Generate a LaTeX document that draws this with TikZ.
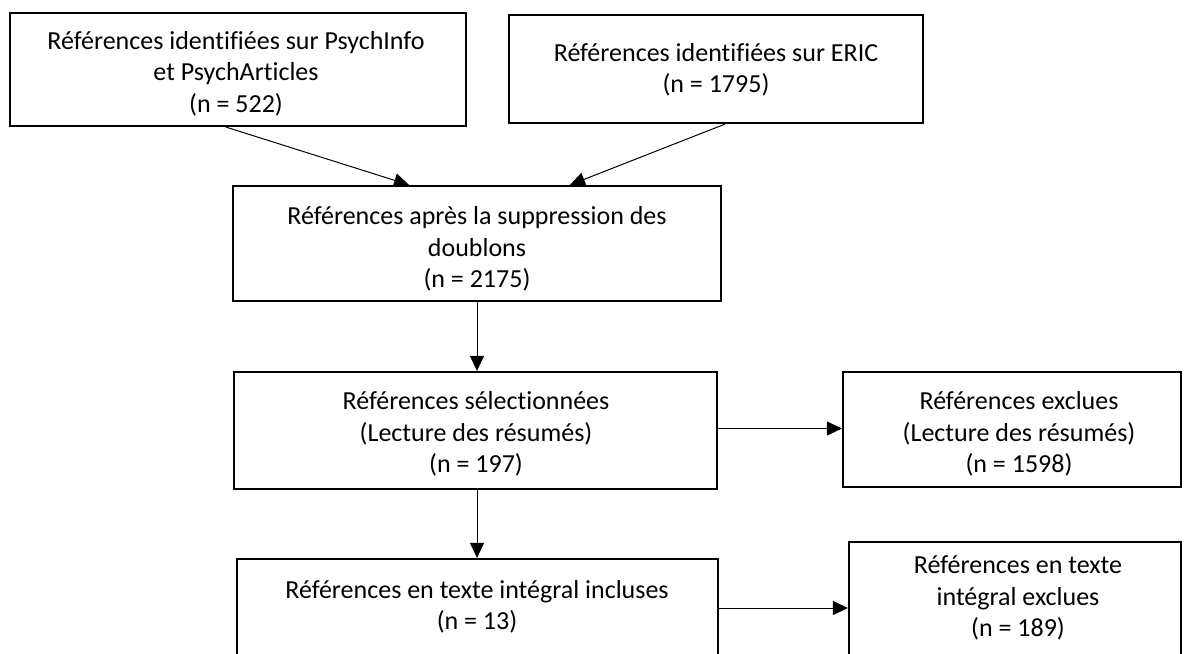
\documentclass[tikz,border=0pt]{standalone}
\usepackage{fontspec}
\setmainfont{Carlito}[Ligatures=NoCommon]
\usetikzlibrary{arrows.meta,positioning}

\tikzset{
  refbox/.style={draw, line width=2.2pt, rectangle, inner sep=0pt},
  reftext/.style={align=center, inner sep=0pt, font=\fontsize{26pt}{31.5pt}\selectfont},
  flow/.style={line width=1pt, -{Triangle[length=15pt,width=14pt]}}
}

\begin{document}
\begin{tikzpicture}[x=1pt, y=-1pt]
	\useasboundingbox (0,0) rectangle (1185,653);
	% Draw the boxes
	\node[refbox, minimum width=456pt, minimum height=113pt] (ref1) at (238,69.5) {};
	\node[refbox, minimum width=414pt, minimum height=108pt] (ref2) at (716,69) {};
	\node[refbox, minimum width=488pt, minimum height=115pt] (ref3) at (477,243.5) {};
	\node[refbox, minimum width=483pt, minimum height=117pt] (ref4) at (475.5,430.5) {};
	\node[refbox, minimum width=338pt, minimum height=115pt] (ref5) at (1012,429.5) {};
	\node[refbox, minimum width=481pt, minimum height=121pt] (ref6) at (477.5,619.5) {};
	\node[refbox, minimum width=332pt, minimum height=148pt] (ref7) at (1015,616) {};
	% Write the texts
	\begin{scope}
		\clip (ref1.north west) rectangle ([yshift=-13pt]ref1.south east);
		\node[reftext, anchor=base] (ref1txt) at (236,112) {Références identifiées sur PsychInfo\\et PsychArticles\\(n = 522)};
	\end{scope}
	\node[reftext] (ref2txt) at (716,70) {Références identifiées sur ERIC\\(n = 1795)};
	\node[reftext] (ref3txt) at (477,249) {Références après la suppression des\\doublons\\(n = 2175)};
	\node[reftext] (ref4txt) at (476,434) {Références sélectionnées\\(Lecture des résumés)\\(n = 197)};
	\node[reftext] (ref5txt) at (1019,434) {Références exclues\\(Lecture des résumés)\\(n = 1598)};
	\node[reftext] (ref6txt) at (477,607) {Références en texte intégral incluses\\(n = 13)};
	\node[reftext] (ref7txt) at (1018,598) {Références en texte\\intégral exclues\\(n = 189)};
	% Connect the boxes with arrows
	\draw[flow] ([xshift=-12pt]ref1.south) -- ([xshift=-68pt]ref3.north);
	\draw[flow] ([xshift=9pt]ref2.south) -- ([xshift=93pt]ref3.north);
	\draw[flow] (ref3.south) -- (ref4.north -| ref3.south);
	\draw[flow] ([yshift=2pt]ref4.east) -- ([yshift=2pt]ref4.east -| ref5.west);
	\draw[flow] (ref4.south -| ref3.south) -- (ref6.north -| ref3.south);
	\draw[flow] (ref6.east |- 0,608) -- (ref7.west |- 0,608);
\end{tikzpicture}
\end{document}
